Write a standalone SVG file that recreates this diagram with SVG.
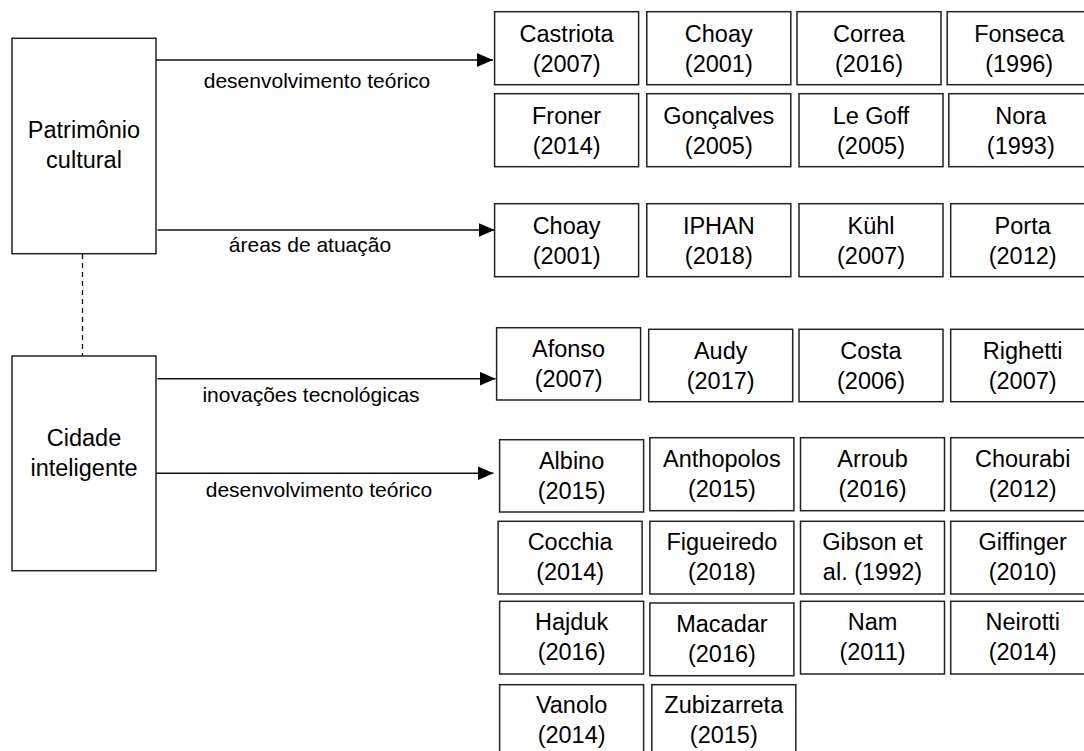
<svg xmlns="http://www.w3.org/2000/svg" width="1084" height="751" viewBox="0 0 1084 751">
  <defs>
    <marker id="head" markerUnits="userSpaceOnUse" viewBox="0 0 16 14" markerWidth="16" markerHeight="14" refX="16" refY="7" orient="auto">
      <path d="M0,0 L16,7 L0,14 Z" fill="#000"/>
    </marker>
    <style>
      rect { fill: #fff; stroke: #222; stroke-width: 1.5; }
      text { font-family: "Liberation Sans", Arial, sans-serif; fill: #000; text-anchor: middle; }
      .main { font-size: 23.5px; }
      .ref { font-size: 23.5px; }
      .lbl { font-size: 21px; }
      .edge { fill: none; stroke: #111; stroke-width: 1.5; }
      .link { fill: none; stroke: #111; stroke-width: 1.3; stroke-dasharray: 5 4; }
    </style>
  </defs>
  <rect x="0" y="0" width="1084" height="751" style="fill:#fff;stroke:none"/>

  <!-- connectors -->
  <g id="connectors">
    <path class="link" d="M82.5,254 V356"/>
    <path class="edge" d="M156,60 H493" marker-end="url(#head)"/>
    <path class="edge" d="M157.5,230 H494.5" marker-end="url(#head)"/>
    <path class="edge" d="M157.5,378.7 H495.5" marker-end="url(#head)"/>
    <path class="edge" d="M156,473.3 H493.5" marker-end="url(#head)"/>
    <text class="lbl" x="317" y="88">desenvolvimento teórico</text>
    <text class="lbl" x="310" y="252">áreas de atuação</text>
    <text class="lbl" x="311" y="402">inovações tecnológicas</text>
    <text class="lbl" x="319" y="497">desenvolvimento teórico</text>
  </g>

  <!-- main topics -->
  <g id="patrimonio-cultural">
    <rect x="12" y="38.3" width="144" height="215.4"/>
    <text class="main" x="84" y="138.3">Patrimônio</text>
    <text class="main" x="84" y="168.3">cultural</text>
  </g>
  <g id="cidade-inteligente">
    <rect x="12" y="356" width="144" height="214.7"/>
    <text class="main" x="84" y="445.7">Cidade</text>
    <text class="main" x="84" y="475.7">inteligente</text>
  </g>

  <!-- patrimônio: desenvolvimento teórico -->
  <g id="castriota-2007"><rect x="494.6" y="11.7" width="144" height="73"/><text class="ref" x="566.6" y="41.7">Castriota</text><text class="ref" x="566.6" y="71.7">(2007)</text></g>
  <g id="choay-2001-a"><rect x="646.8" y="11.7" width="144" height="73"/><text class="ref" x="718.8" y="41.7">Choay</text><text class="ref" x="718.8" y="71.7">(2001)</text></g>
  <g id="correa-2016"><rect x="797" y="11.7" width="144" height="73"/><text class="ref" x="869" y="41.7">Correa</text><text class="ref" x="869" y="71.7">(2016)</text></g>
  <g id="fonseca-1996"><rect x="947.2" y="11.7" width="144" height="73"/><text class="ref" x="1019.2" y="41.7">Fonseca</text><text class="ref" x="1019.2" y="71.7">(1996)</text></g>
  <g id="froner-2014"><rect x="494.6" y="93.7" width="144" height="73"/><text class="ref" x="566.6" y="123.7">Froner</text><text class="ref" x="566.6" y="153.7">(2014)</text></g>
  <g id="goncalves-2005"><rect x="646.8" y="93.7" width="144" height="73"/><text class="ref" x="718.8" y="123.7">Gonçalves</text><text class="ref" x="718.8" y="153.7">(2005)</text></g>
  <g id="le-goff-2005"><rect x="799" y="93.7" width="144" height="73"/><text class="ref" x="871" y="123.7">Le Goff</text><text class="ref" x="871" y="153.7">(2005)</text></g>
  <g id="nora-1993"><rect x="948.8" y="93.7" width="144" height="73"/><text class="ref" x="1020.8" y="123.7">Nora</text><text class="ref" x="1020.8" y="153.7">(1993)</text></g>

  <!-- patrimônio: áreas de atuação -->
  <g id="choay-2001-b"><rect x="494.6" y="203.7" width="144" height="73"/><text class="ref" x="566.6" y="233.7">Choay</text><text class="ref" x="566.6" y="263.7">(2001)</text></g>
  <g id="iphan-2018"><rect x="646.8" y="203.7" width="144" height="73"/><text class="ref" x="718.8" y="233.7">IPHAN</text><text class="ref" x="718.8" y="263.7">(2018)</text></g>
  <g id="kuhl-2007"><rect x="799" y="203.7" width="144" height="73"/><text class="ref" x="871" y="233.7">Kühl</text><text class="ref" x="871" y="263.7">(2007)</text></g>
  <g id="porta-2012"><rect x="950.7" y="203.7" width="144" height="73"/><text class="ref" x="1022.7" y="233.7">Porta</text><text class="ref" x="1022.7" y="263.7">(2012)</text></g>

  <!-- cidade: inovações tecnológicas -->
  <g id="afonso-2007"><rect x="496.6" y="327.7" width="144" height="72.3"/><text class="ref" x="568.6" y="357.3">Afonso</text><text class="ref" x="568.6" y="387.3">(2007)</text></g>
  <g id="audy-2017"><rect x="648.7" y="329.3" width="144" height="72.4"/><text class="ref" x="720.7" y="359">Audy</text><text class="ref" x="720.7" y="389">(2017)</text></g>
  <g id="costa-2006"><rect x="799" y="329.3" width="144" height="72.4"/><text class="ref" x="871" y="359">Costa</text><text class="ref" x="871" y="389">(2006)</text></g>
  <g id="righetti-2007"><rect x="950.7" y="329.3" width="144" height="72.4"/><text class="ref" x="1022.7" y="359">Righetti</text><text class="ref" x="1022.7" y="389">(2007)</text></g>

  <!-- cidade: desenvolvimento teórico -->
  <g id="albino-2015"><rect x="499.6" y="439.7" width="144" height="72.3"/><text class="ref" x="571.6" y="468.8">Albino</text><text class="ref" x="571.6" y="498.8">(2015)</text></g>
  <g id="anthopolos-2015"><rect x="649.9" y="437.7" width="144" height="73"/><text class="ref" x="721.9" y="467">Anthopolos</text><text class="ref" x="721.9" y="497">(2015)</text></g>
  <g id="arroub-2016"><rect x="800.5" y="437.7" width="144" height="73"/><text class="ref" x="872.5" y="467">Arroub</text><text class="ref" x="872.5" y="497">(2016)</text></g>
  <g id="chourabi-2012"><rect x="950.7" y="437.7" width="144" height="73"/><text class="ref" x="1022.7" y="467">Chourabi</text><text class="ref" x="1022.7" y="497">(2012)</text></g>
  <g id="cocchia-2014"><rect x="498.1" y="521.3" width="144" height="72.7"/><text class="ref" x="570.1" y="550">Cocchia</text><text class="ref" x="570.1" y="580">(2014)</text></g>
  <g id="figueiredo-2018"><rect x="649.9" y="521.3" width="144" height="72.7"/><text class="ref" x="721.9" y="550">Figueiredo</text><text class="ref" x="721.9" y="580">(2018)</text></g>
  <g id="gibson-1992"><rect x="800.5" y="521.3" width="144" height="72.7"/><text class="ref" x="872.5" y="550">Gibson et</text><text class="ref" x="872.5" y="580">al. (1992)</text></g>
  <g id="giffinger-2010"><rect x="950.7" y="521.3" width="144" height="72.7"/><text class="ref" x="1022.7" y="550">Giffinger</text><text class="ref" x="1022.7" y="580">(2010)</text></g>
  <g id="hajduk-2016"><rect x="499.6" y="601.3" width="144" height="72.7"/><text class="ref" x="571.6" y="629.8">Hajduk</text><text class="ref" x="571.6" y="659.8">(2016)</text></g>
  <g id="macadar-2016"><rect x="649.9" y="603" width="144" height="72.7"/><text class="ref" x="721.9" y="631.8">Macadar</text><text class="ref" x="721.9" y="661.8">(2016)</text></g>
  <g id="nam-2011"><rect x="800.5" y="601.3" width="144" height="72.7"/><text class="ref" x="872.5" y="629.8">Nam</text><text class="ref" x="872.5" y="659.8">(2011)</text></g>
  <g id="neirotti-2014"><rect x="950.7" y="601.3" width="144" height="72.7"/><text class="ref" x="1022.7" y="629.8">Neirotti</text><text class="ref" x="1022.7" y="659.8">(2014)</text></g>
  <g id="vanolo-2014"><rect x="499.6" y="684.7" width="144" height="73"/><text class="ref" x="571.6" y="713">Vanolo</text><text class="ref" x="571.6" y="743">(2014)</text></g>
  <g id="zubizarreta-2015"><rect x="651.8" y="684.7" width="144" height="73"/><text class="ref" x="723.8" y="713">Zubizarreta</text><text class="ref" x="723.8" y="743">(2015)</text></g>
</svg>
